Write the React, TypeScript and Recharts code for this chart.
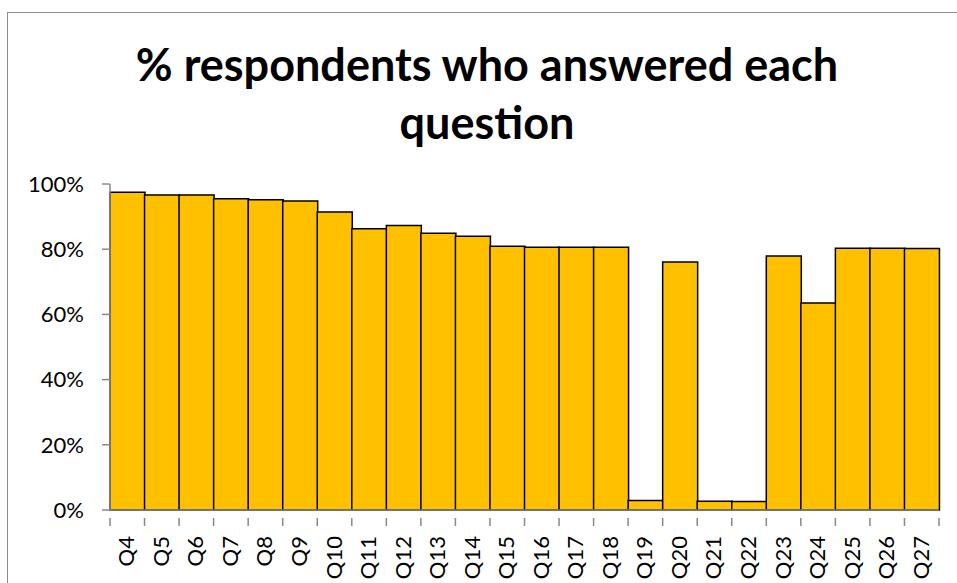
import { BarChart, Bar, XAxis, YAxis } from 'recharts'

// Share of respondents who answered each survey question
const QUESTIONS = [
  'Q4', 'Q5', 'Q6', 'Q7', 'Q8', 'Q9', 'Q10', 'Q11', 'Q12', 'Q13', 'Q14', 'Q15',
  'Q16', 'Q17', 'Q18', 'Q19', 'Q20', 'Q21', 'Q22', 'Q23', 'Q24', 'Q25', 'Q26', 'Q27',
]
const ANSWERED = [
  0.975, 0.966, 0.966, 0.955, 0.952, 0.948, 0.914, 0.863, 0.873, 0.849, 0.84, 0.809,
  0.806, 0.806, 0.806, 0.029, 0.761, 0.027, 0.026, 0.779, 0.635, 0.803, 0.803, 0.802,
]
const Y_TICKS = [0, 0.2, 0.4, 0.6, 0.8, 1]

const AXIS_GREY = '#898989'
const FONT = 'Lato, "Open Sans", sans-serif'

const data = QUESTIONS.map((q, i) => ({ question: q, answered: ANSWERED[i] }))

// Excel-style category ticks: marks sit on the boundaries between bars
function QuestionTick(props: any) {
  const { x, y, payload, index } = props
  const half = payload?.offset ?? 0
  const last = index === QUESTIONS.length - 1
  return (
    <g>
      <line x1={x - half} x2={x - half} y1={y} y2={y + 8} stroke={AXIS_GREY} strokeWidth={1.5} />
      {last && (
        <line x1={x + half} x2={x + half} y1={y} y2={y + 8} stroke={AXIS_GREY} strokeWidth={1.5} />
      )}
      <text
        x={0}
        y={0}
        transform={`translate(${x + 7}, ${y + 18}) rotate(-90)`}
        textAnchor="end"
        fontSize={22}
        fontFamily={FONT}
        fill="#000"
      >
        {payload.value}
      </text>
    </g>
  )
}

export default function App() {
  return (
    <div
      style={{
        position: 'absolute', left: 0, top: 0, width: 957, height: 583,
        overflow: 'hidden', background: '#fff',
      }}
    >
      <div
        style={{
          position: 'absolute', left: 7, top: 12, width: 980, height: 600,
          border: '1.5px solid #8c8c8c', boxSizing: 'border-box',
        }}
      />
      <div
        style={{
          position: 'absolute', left: 37, top: 35, width: 900, textAlign: 'center',
          fontFamily: FONT, fontWeight: 700, fontSize: 45, lineHeight: '58px', color: '#000',
        }}
      >
        % respondents who answered each
        <br />
        question
      </div>
      <div style={{ position: 'absolute', left: 0, top: 0 }}>
        <BarChart
          width={957}
          height={583}
          data={data}
          barCategoryGap={0}
          margin={{ top: 184, right: 18, bottom: 0, left: 0 }}
        >
          <XAxis
            dataKey="question"
            interval={0}
            height={73}
            stroke={AXIS_GREY}
            axisLine={{ stroke: AXIS_GREY, strokeWidth: 1.5 }}
            tickLine={false}
            tick={<QuestionTick />}
          />
          <YAxis
            width={110}
            domain={[0, 1]}
            ticks={Y_TICKS}
            interval={0}
            tickFormatter={v => `${Math.round(v * 100)}%`}
            axisLine={{ stroke: AXIS_GREY, strokeWidth: 1.5 }}
            tickLine={{ stroke: AXIS_GREY, strokeWidth: 1.5 }}
            tickSize={8}
            tickMargin={18}
            tick={{ fontSize: 22, fontFamily: FONT, fill: '#000' }}
          />
          <Bar
            dataKey="answered"
            fill="#FFC000"
            stroke="#000"
            strokeWidth={1.5}
            isAnimationActive={false}
          />
        </BarChart>
      </div>
    </div>
  )
}
